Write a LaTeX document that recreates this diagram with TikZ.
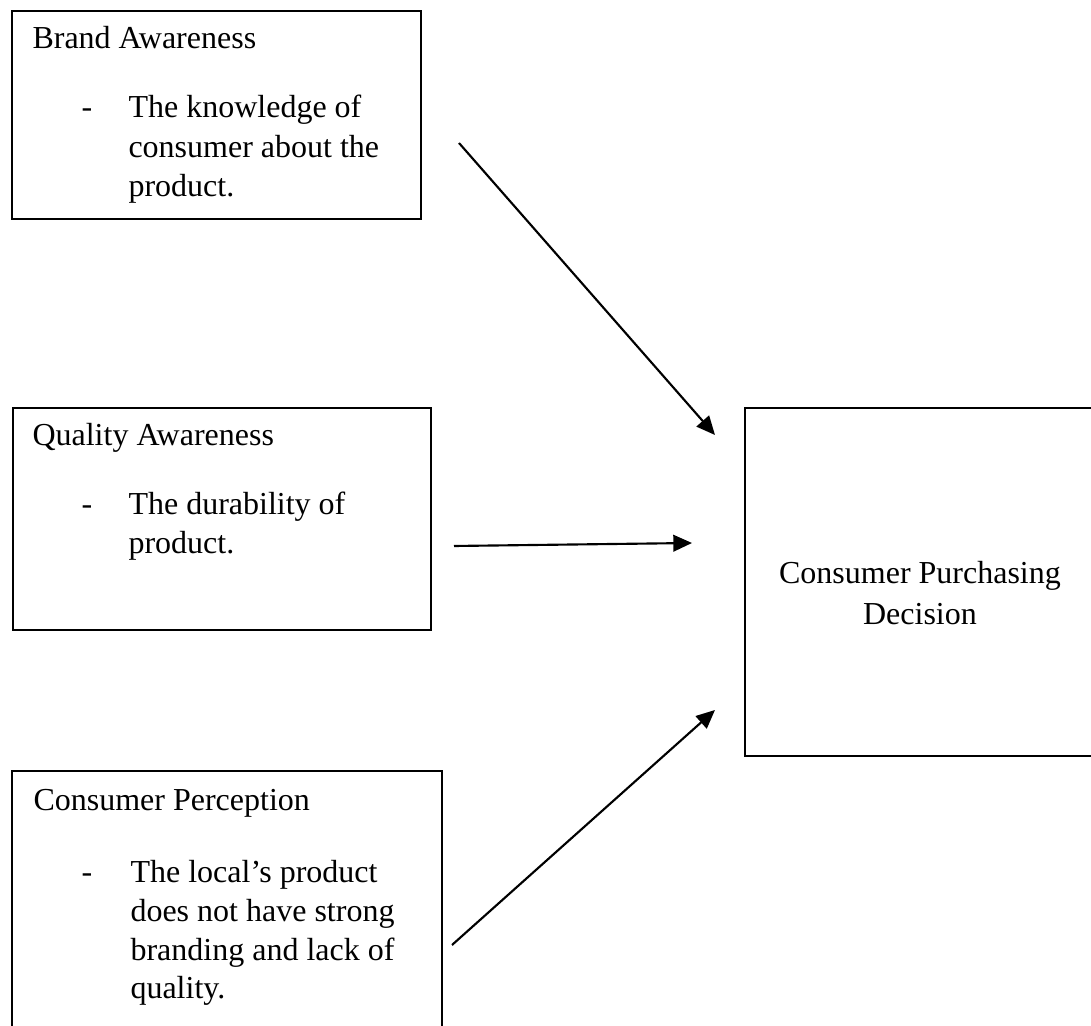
\documentclass[tikz,border=0pt]{standalone}
\usepackage{fontspec}
\setmainfont{Liberation Serif}
\usetikzlibrary{fit,arrows.meta}
\tikzset{
  box/.style={draw=black, line width=0.8pt, inner sep=0pt, fill=none},
  txt/.style={inner sep=0pt, anchor=base west, font=\fontsize{12}{14}\selectfont},
  ctxt/.style={inner sep=0pt, anchor=base, font=\fontsize{12}{14}\selectfont},
  arr/.style={line width=0.8pt, -{Triangle[length=7pt,width=6.2pt]}}
}
\begin{document}
\begin{tikzpicture}[x=0.375pt,y=-0.375pt]
\clip (0,0) rectangle (1091,1026);
\fill[white] (0,0) rectangle (1091,1026);
% boxes
\node[box, fit={(12,11) (421,219)}] (b1) {};
\node[box, fit={(13,408) (431,630)}] (b2) {};
\node[box, fit={(12,771) (442,1080)}] (b3) {};
\node[box, fit={(745,408) (1110,756)}] (b4) {};
% box 1 text
\node[txt] (t11) at (32,49) {Brand Awareness};
\node[txt] (d1) at (81,118) {-};
\node[txt] (t12) at (128,118) {The knowledge of};
\node[txt] (t13) at (128,158) {consumer about the};
\node[txt] (t14) at (128,197) {product.};
% box 2 text
\node[txt] (t21) at (32,446) {Quality Awareness};
\node[txt] (d2) at (81,515) {-};
\node[txt] (t22) at (128,515) {The durability of};
\node[txt] (t23) at (128,554) {product.};
% box 3 text
\node[txt] (t31) at (33,811) {Consumer Perception};
\node[txt] (d3) at (81,883) {-};
\node[txt] (t32) at (130,883) {The local’s product};
\node[txt] (t33) at (130,922) {does not have strong};
\node[txt] (t34) at (130,961) {branding and lack of};
\node[txt] (t35) at (130,999) {quality.};
% box 4 text
\node[ctxt] (t41) at (920,584) {Consumer Purchasing};
\node[ctxt] (t42) at (920,625) {Decision};
% arrows
\coordinate (s1) at (459,143);
\coordinate (e1) at (715,435);
\coordinate (s2) at (454,546);
\coordinate (e2) at (692,543);
\coordinate (s3) at (452,945);
\coordinate (e3) at (715,710);
\draw[arr] (s1) -- (e1);
\draw[arr] (s2) -- (e2);
\draw[arr] (s3) -- (e3);
\end{tikzpicture}
\end{document}
